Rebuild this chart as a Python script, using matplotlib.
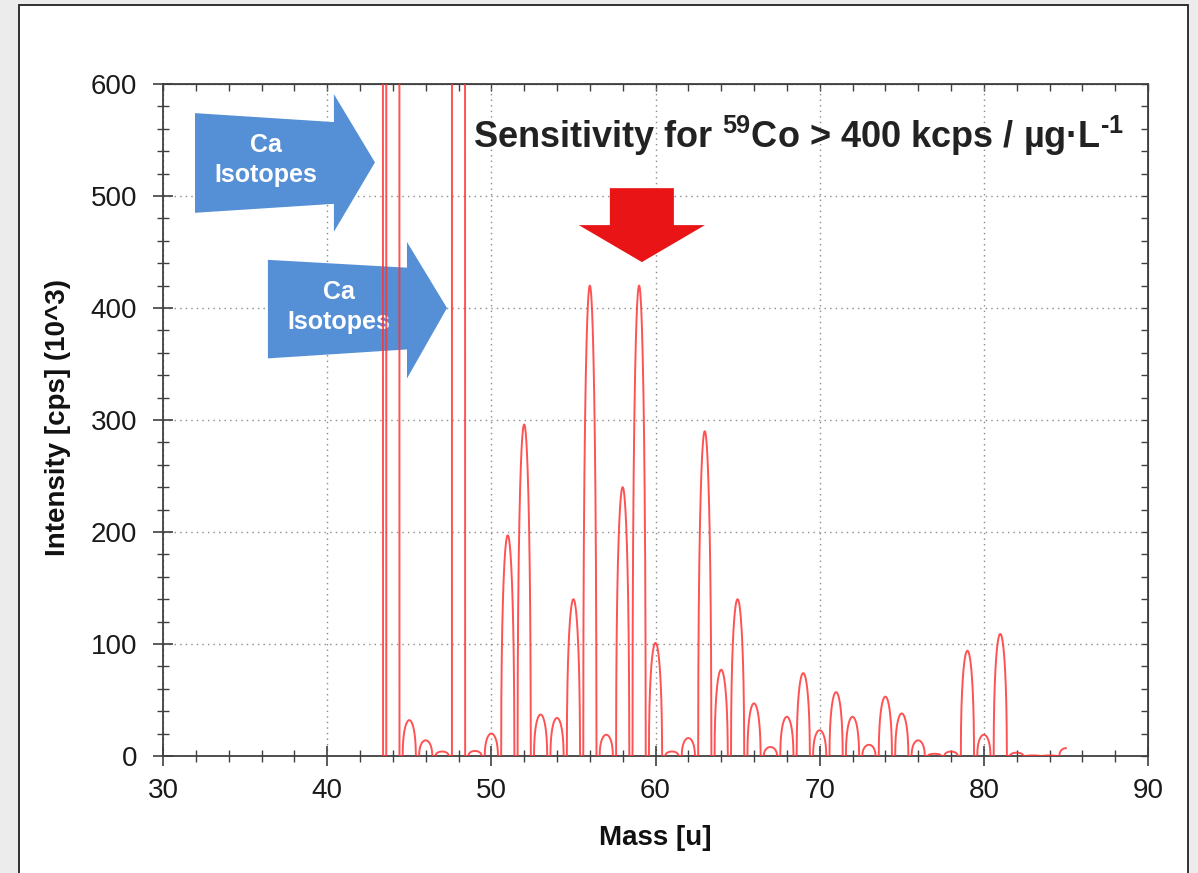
import numpy as np
import matplotlib
matplotlib.use('Agg')
import matplotlib.pyplot as plt
from matplotlib.patches import Polygon, Rectangle

plt.rcParams['font.family'] = ['Liberation Sans', 'DejaVu Sans']
plt.rcParams['mathtext.fontset'] = 'custom'
plt.rcParams['mathtext.rm'] = 'Liberation Sans:bold'
plt.rcParams['mathtext.bf'] = 'Liberation Sans:bold'

# peak list: mass [u], intensity [cps] (10^3)
masses = [43, 44, 45, 46, 47, 48, 49, 50, 51, 52, 53, 54, 55, 56, 57, 58, 59, 60,
          61, 62, 63, 64, 65, 66, 67, 68, 69, 70, 71, 72, 73, 74, 75, 76, 77, 78,
          79, 80, 81, 82, 83, 84, 85]
heights = [5000, 40000, 32, 14, 4, 8000, 4.5, 20, 197, 296, 37, 34, 140, 420, 19, 240, 420, 101,
           4, 16, 290, 77, 140, 47, 8, 35, 74, 23, 57, 35, 10, 53, 38, 14, 2, 4,
           94, 19, 109, 3, 0.5, 0.5, 7]
scan_start = 43.2
scan_end = 85.0
peak_halfwidth = 0.4

mass = np.arange(scan_start, scan_end, 0.005)
intensity = np.zeros_like(mass)
for m, h in zip(masses, heights):
    u = (mass - m) / peak_halfwidth
    intensity += h * np.clip(1 - u ** 2, 0, None) ** 0.45

fig = plt.figure(figsize=(11.98, 8.73), dpi=100, facecolor='#ececec')
fig.add_artist(Rectangle((19 / 1198, -0.02), (1188 - 19) / 1198, 1.0 - 5 / 873 + 0.02,
                         transform=fig.transFigure, facecolor='white',
                         edgecolor='#222222', lw=1.3, zorder=-10))

ax = fig.add_axes([163 / 1198, 1 - 756 / 873, (1148 - 163) / 1198, (756 - 84) / 873])
ax.set_facecolor('white')

# annotation arrows (behind the spectrum)
blue = '#5590d6'
arrow1 = [(31.95, 574), (40.41, 566), (40.41, 591), (42.91, 530),
          (40.41, 468), (40.41, 493), (31.95, 485)]
arrow2 = [(36.39, 443), (44.86, 436), (44.86, 459), (47.30, 400),
          (44.86, 337), (44.86, 363), (36.39, 355)]
for pts in (arrow1, arrow2):
    ax.add_patch(Polygon(pts, closed=True, facecolor=blue, edgecolor='none', zorder=1))
ax.text(36.28, 532, 'Ca\nIsotopes', color='white', fontsize=18, fontweight='bold',
        ha='center', va='center', linespacing=1.3, zorder=2)
ax.text(40.7, 401, 'Ca\nIsotopes', color='white', fontsize=18, fontweight='bold',
        ha='center', va='center', linespacing=1.3, zorder=2)

red_arrow = [(57.22, 507), (61.12, 507), (61.12, 474), (63.01, 474),
             (59.17, 441), (55.33, 474), (57.22, 474)]
ax.add_patch(Polygon(red_arrow, closed=True, facecolor='#e81416', edgecolor='none', zorder=1))

ax.plot(mass, intensity, color='#ff3434', lw=1.4, alpha=0.85, zorder=3)

ax.text(48.88, 543, r'Sensitivity for $^{59}$Co > 400 kcps / µg·L$^{\text{-1}}$',
        fontsize=26, fontweight='bold', color='#222222', ha='left', va='baseline', zorder=4)

ax.set_xlim(30, 90)
ax.set_ylim(0, 600)
ax.set_xticks(np.arange(30, 91, 10))
ax.set_xticks(np.arange(30, 91, 2), minor=True)
ax.set_yticks(np.arange(0, 601, 100))
ax.set_yticks(np.arange(0, 601, 20), minor=True)
ax.grid(which='major', color='#8a8a8a', linestyle=(0, (1, 3)), lw=1.0)
ax.set_axisbelow(True)

tick_col = '#404040'
for s in ax.spines.values():
    s.set_color(tick_col)
    s.set_linewidth(1.3)
ax.tick_params(which='major', direction='inout', length=15, width=1.2, color=tick_col,
               labelsize=20, labelcolor='#1a1a1a', pad=8)
ax.tick_params(axis='y', which='major', pad=11)
ax.tick_params(which='minor', direction='inout', length=8, width=1.0, color=tick_col)

top = ax.secondary_xaxis('top')
top.set_xticks(np.arange(30, 91, 2))
top.tick_params(direction='in', length=5, width=1.0, color=tick_col, labeltop=False)
top.spines['top'].set_color(tick_col)
right = ax.secondary_yaxis('right')
right.set_yticks(np.arange(0, 601, 20))
right.tick_params(direction='in', length=5, width=1.0, color=tick_col, labelright=False)
right.spines['right'].set_color(tick_col)

fig.text(58 / 1198, 1 - 418 / 873, 'Intensity [cps] (10^3)', rotation=90, fontsize=20,
         fontweight='bold', color='#111111', ha='center', va='center')
fig.text(655 / 1198, 1 - 838 / 873, 'Mass [u]', fontsize=20,
         fontweight='bold', color='#111111', ha='center', va='center')

fig.savefig('out.png', dpi=100, facecolor=fig.get_facecolor())
